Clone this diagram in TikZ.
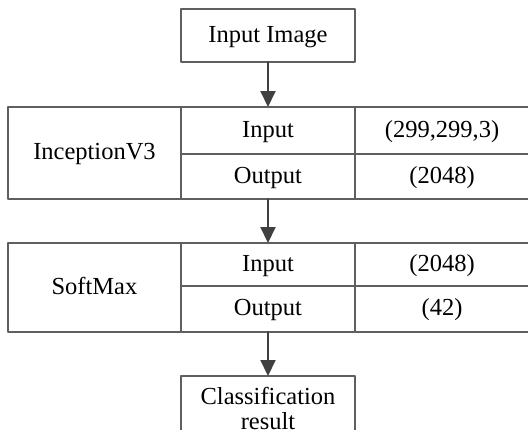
\documentclass[tikz,border=0pt]{standalone}
\usepackage{fontspec}
\setmainfont{Liberation Serif}
\usetikzlibrary{arrows.meta}

\definecolor{framegray}{RGB}{95,95,95}
\definecolor{arrowgray}{RGB}{64,64,64}

\tikzset{
  cell/.style={draw=framegray,line width=1.2pt,inner sep=0pt,outer sep=0pt,
    minimum width=174pt,minimum height=47pt,text height=16pt,text depth=3pt,
    font=\fontsize{24.5}{27}\selectfont},
  flow/.style={draw=arrowgray,line width=2pt,
    -{Triangle[width=15pt,length=16pt]}}
}

\begin{document}
\begin{tikzpicture}[line cap=round,line join=round,x=1pt,y=-1pt]
      \useasboundingbox (0,0) rectangle (528,429);
      \clip (0,0) rectangle (528,429);
      % input
      \node[cell,minimum height=53pt] (img) at (268,35.5) {Input Image};
      % first block
      \node[cell,minimum width=173pt,minimum height=92pt] (inc) at (94.5,153) {InceptionV3};
      \node[cell] (incin) at (268,130.5) {Input};
      \node[cell,minimum height=45pt] (incout) at (268,176.5) {Output};
      \node[cell] (incinv) at (442,130.5) {(299,299,3)};
      \node[cell,minimum height=45pt] (incoutv) at (442,176.5) {(2048)};
      % second block
      \node[cell,minimum width=173pt,minimum height=89pt] (soft) at (94.5,287.5) {SoftMax};
      \node[cell,minimum height=43pt] (softin) at (268,264.5) {Input};
      \node[cell,minimum height=46pt] (softout) at (268,309) {Output};
      \node[cell,minimum height=43pt] (softinv) at (442,264.5) {(2048)};
      \node[cell,minimum height=46pt] (softoutv) at (442,309) {(42)};
      % result
      \node[cell,anchor=north,minimum height=64pt,text height=,text depth=,
        align=center,inner ysep=0pt,font=\fontsize{24.5}{25}\selectfont]
        (res) at (268,376) {Classification\\result};
      % connectors
      \draw[flow] (img.south) -- (incin.north);
      \draw[flow] (incout.south) -- (softin.north);
      \draw[flow] (softout.south) -- (res.north);
    \end{tikzpicture}
\end{document}
